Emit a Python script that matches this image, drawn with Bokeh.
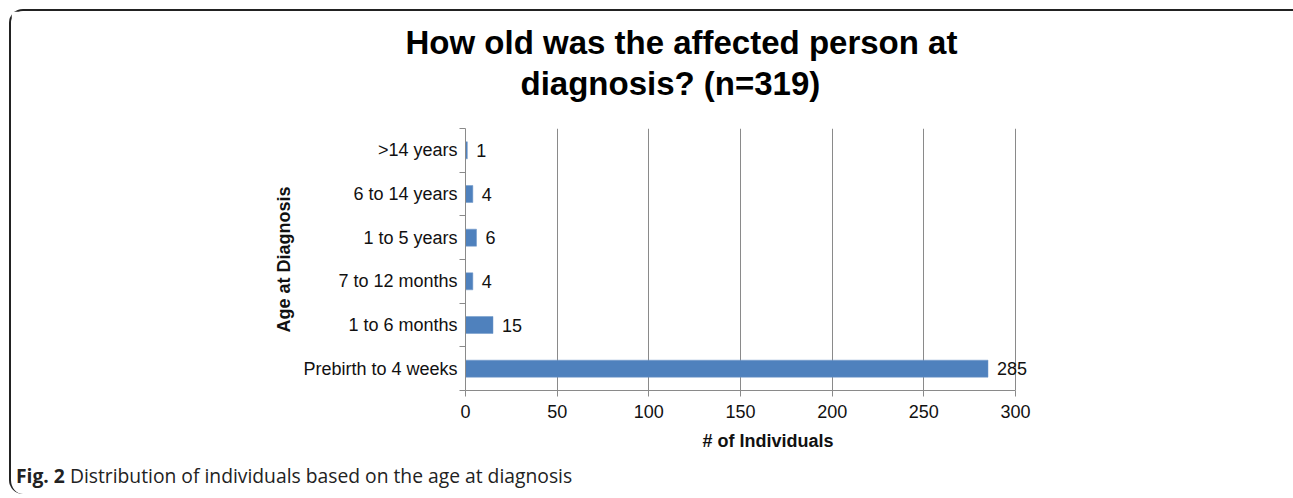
from bokeh.plotting import figure
from bokeh.models import ColumnDataSource, FixedTicker, LabelSet, Range1d, Title, Div
from bokeh.layouts import column
from bokeh.core.properties import value
from bokeh.embed import file_html
from bokeh.resources import INLINE

# ---- data ----
categories = ["Prebirth to 4 weeks", "1 to 6 months", "7 to 12 months",
              "1 to 5 years", "6 to 14 years", ">14 years"]
counts = [285, 15, 4, 6, 4, 1]
x_ticks = [0, 50, 100, 150, 200, 250, 300]
title_lines = ["How old was the affected person at", "diagnosis? (n=319)"]
x_label = "# of Individuals"
y_label = "Age at Diagnosis"
caption_bold = "Fig. 2"
caption_text = "Distribution of individuals based on the age at diagnosis"

FONT = "Liberation Sans"
BAR = "#4F81BD"
GRID = "#8a8a8a"
TXT = "#111111"

pos = list(range(len(categories)))
src = ColumnDataSource(dict(pos=pos, count=counts, lab=[str(c) for c in counts]))

W, H = 1280, 449
p = figure(width=W, height=H, output_backend="svg", toolbar_location=None,
           x_range=Range1d(0, 330), y_range=Range1d(-0.5, len(categories) - 0.5),
           min_border_left=454, min_border_right=W - 454 - 605, min_border_top=117,
           min_border_bottom=H - 379, title=None)
p.outline_line_color = None
p.background_fill_color = "white"
p.border_fill_color = "white"

p.hbar(y="pos", left=0, right="count", height=0.39, source=src,
       fill_color=BAR, line_color="#6f97c9", line_width=0.5)

p.add_layout(LabelSet(x="count", y="pos", text="lab", source=src, x_offset=9,
                      text_baseline="middle", text_font=value(FONT),
                      text_font_size=value("18px"), text_color=TXT))

# x axis
xa = p.xaxis[0]
xa.ticker = FixedTicker(ticks=x_ticks)
xa.bounds = (x_ticks[0], x_ticks[-1])
xa.axis_line_color = GRID
xa.major_tick_line_color = GRID
xa.major_tick_out = 6
xa.major_tick_in = 0
xa.minor_tick_line_color = None
xa.major_label_text_font = FONT
xa.major_label_text_font_size = "18px"
xa.major_label_text_color = TXT
xa.major_label_standoff = 8
xa.axis_label = x_label
xa.axis_label_text_font = FONT
xa.axis_label_text_font_size = "18px"
xa.axis_label_text_font_style = "bold"
xa.axis_label_text_color = TXT
xa.axis_label_standoff = 10

# y axis
ya = p.yaxis[0]
ya.ticker = FixedTicker(ticks=pos, minor_ticks=[i - 0.5 for i in range(len(categories) + 1)])
ya.major_label_overrides = {i: c for i, c in enumerate(categories)}
ya.axis_line_color = GRID
ya.major_tick_line_color = None
ya.major_tick_out = 0
ya.major_tick_in = 0
ya.minor_tick_line_color = GRID
ya.minor_tick_out = 6
ya.minor_tick_in = 0
ya.major_label_text_font = FONT
ya.major_label_text_font_size = "18px"
ya.major_label_text_color = TXT
ya.major_label_standoff = 2
ya.axis_label = y_label
ya.axis_label_text_font = FONT
ya.axis_label_text_font_size = "18px"
ya.axis_label_text_font_style = "bold"
ya.axis_label_text_color = TXT
ya.axis_label_standoff = 6

p.xgrid.ticker = FixedTicker(ticks=x_ticks)
p.xgrid.grid_line_color = GRID
p.ygrid.grid_line_color = None

# spacer between frame and title, then title line 2, then title line 1 (outermost)
p.add_layout(Title(text=" ", text_font_size="10px", standoff=14), "above")
p.add_layout(Title(text=title_lines[1], align="left", offset=55, text_font=FONT,
                   text_font_size="33px", text_font_style="bold", text_color="#000",
                   standoff=0), "above")
p.add_layout(Title(text=title_lines[0], align="left", offset=-60, text_font=FONT,
                   text_font_size="33px", text_font_style="bold", text_color="#000",
                   standoff=4), "above")

caption = Div(text=f"<b>{caption_bold}</b> {caption_text}", width=W, height=24,
              styles={"font-family": "'Open Sans'", "font-size": "19.3px",
                      "color": "#222", "padding-left": "0px", "line-height": "22px"})

layout = column(p, caption, spacing=0,
                styles={"margin-left": "9px", "margin-top": "9px",
                        "border-left": "2px solid #222", "border-top": "2px solid #222",
                        "border-top-left-radius": "14px",
                        "border-bottom-left-radius": "14px"})

open("out.html", "w").write(file_html(layout, INLINE))
